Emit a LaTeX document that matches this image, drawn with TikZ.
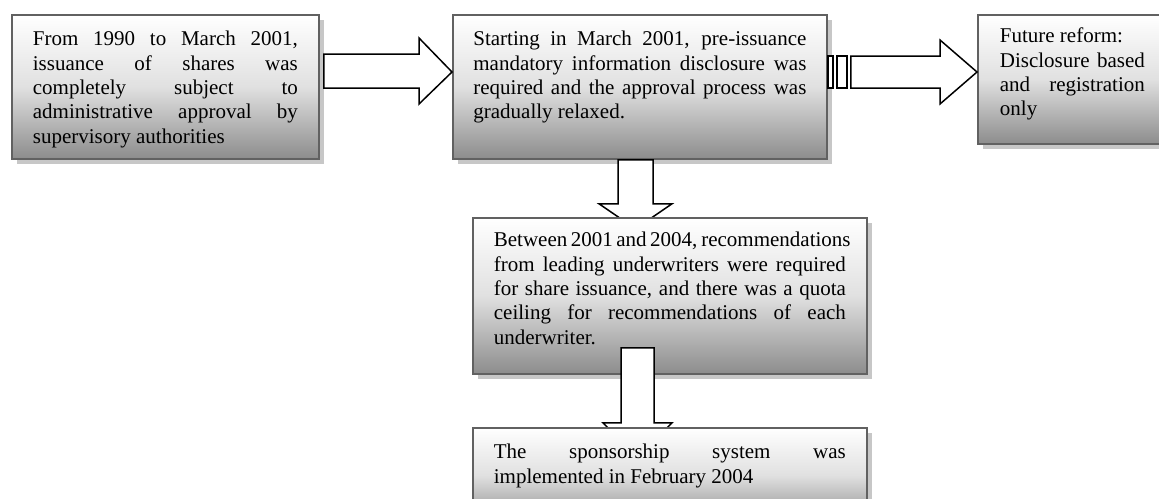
\documentclass[tikz,border=0pt]{standalone}
\usepackage{fontspec}
\setmainfont{Liberation Serif}
\usetikzlibrary{calc,shadows}
\newcommand{\myJ}[1]{\hbox to \linewidth{#1}}
\newcommand{\myL}[1]{\hbox to \linewidth{#1\hfil}}
\newcommand{\fl}{\rule{0pt}{15pt}}
\tikzset{
  box/.style={draw=black!62, line width=1.8pt, top color=white, bottom color=black!45,
    middle color=black!12, inner ysep=0pt, anchor=north west,
    drop shadow={shadow xshift=5pt, shadow yshift=-5pt, fill=black!22, opacity=1},
    font=\fontsize{21pt}{24.3pt}\selectfont},
  blockarrow/.style={draw=black, fill=white, line width=1.5pt, line join=miter},
}
\begin{document}
\begin{tikzpicture}[x=1pt, y=-1pt]
\useasboundingbox (0,0) rectangle (1159,498);
\clip (0,0) rectangle (1159,498);
\fill[white] (0,0) rectangle (1159,498);

\node[box, inner xsep=21pt] (b1) at (11,14) {\parbox[c][144pt][t]{265pt}{\vspace*{16pt}%
  \myJ{\fl From 1990 to March 2001,}%
  \myJ{issuance of shares was}%
  \myJ{completely subject to}%
  \myJ{administrative approval by}%
  \myL{supervisory authorities}}};

\node[box, inner xsep=20.5pt] (b2) at (452,14) {\parbox[c][144pt][t]{333pt}{\vspace*{16pt}%
  \myJ{\fl Starting in March 2001, pre-issuance}%
  \myJ{mandatory information disclosure was}%
  \myJ{required and the approval process was}%
  \myL{gradually relaxed.}}};

\node[box, inner xsep=22pt] (b3) at (977,14) {\parbox[c][129pt][t]{145pt}{\vspace*{13pt}%
  \myL{\fl Future reform:}%
  \myJ{Disclosure based}%
  \myJ{and registration}%
  \myL{only}}};

% arrow b1 -> b2
\draw[blockarrow] ($(b1.north east)+(4,40)$) -- ($(b2.north west)+(-33,40)$)
  -- ($(b2.north west)+(-33,24)$) -- ($(b2.north west)+(0,58)$)
  -- ($(b2.north west)+(-33,90)$) -- ($(b2.north west)+(-33,74)$)
  -- ($(b1.north east)+(4,74)$) -- cycle;

% striped arrow b2 -> b3
\draw[blockarrow] ($(b2.north east)+(0,42)$) rectangle ($(b2.north east)+(5,74)$);
\draw[blockarrow] ($(b2.north east)+(9,42)$) rectangle ($(b2.north east)+(19,74)$);
\draw[blockarrow] ($(b2.north east)+(23,42)$) -- ($(b3.north west)+(-37,42)$)
  -- ($(b3.north west)+(-37,26)$) -- ($(b3.north west)+(0,58)$)
  -- ($(b3.north west)+(-37,90)$) -- ($(b3.north west)+(-37,74)$)
  -- ($(b2.north east)+(23,74)$) -- cycle;

% arrow b2 -> b4
\draw[blockarrow] ($(b2.south west)+(166,0)$) -- ($(b2.south west)+(166,44)$)
  -- ($(b2.south west)+(147,44)$) -- ($(b2.south west)+(183.5,69)$)
  -- ($(b2.south west)+(220,44)$) -- ($(b2.south west)+(201,44)$)
  -- ($(b2.south west)+(201,0)$) -- cycle;

\node[box, inner xsep=21pt] (b4) at (472,217) {\parbox[c][156pt][t]{352pt}{\vspace*{14pt}%
  \myJ{\fl Between 2001 and 2004, recommendations}%
  \myJ{from leading underwriters were required}%
  \myJ{for share issuance, and there was a quota}%
  \myJ{ceiling for recommendations of each}%
  \myL{underwriter.}}};

% arrow b4 -> b5
\draw[blockarrow] ($(b4.south west)+(149,-27)$) -- ($(b4.south west)+(149,48)$)
  -- ($(b4.south west)+(131,48)$) -- ($(b4.south west)+(165.5,83)$)
  -- ($(b4.south west)+(200,48)$) -- ($(b4.south west)+(182,48)$)
  -- ($(b4.south west)+(182,-27)$) -- cycle;

\node[box, inner xsep=21pt] (b5) at (472,427) {\parbox[c][95pt][t]{352pt}{\vspace*{16pt}%
  \myJ{\fl The sponsorship system was}%
  \myL{implemented in February 2004}}};
\end{tikzpicture}
\end{document}
